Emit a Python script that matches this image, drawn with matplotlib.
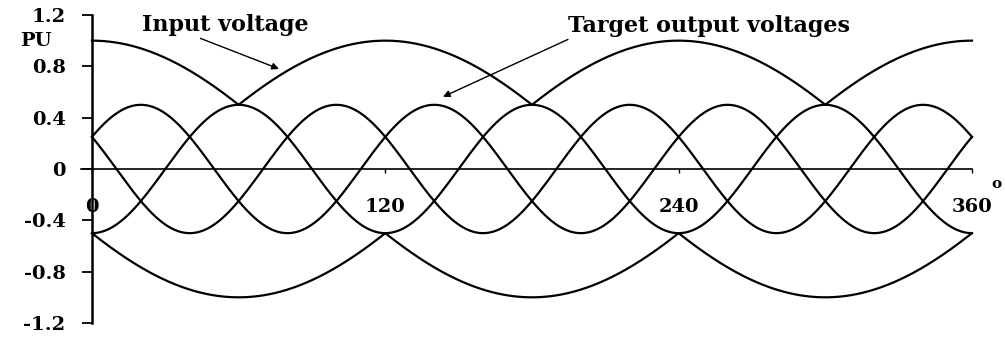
import numpy as np
import matplotlib
matplotlib.use("Agg")
import matplotlib.pyplot as plt

# Per-unit three-phase waveforms over one input cycle (degrees)
input_amplitude = 1.0
input_phases_deg = [0, -120, 120]
output_amplitude = 0.5
output_freq_ratio = 3
output_phases_deg = [-60, 180, 60]

x_ticks = [0, 120, 240, 360]
x_tick_labels = ["0", "120", "240", "360"]
y_ticks = [1.2, 0.8, 0.4, 0, -0.4, -0.8, -1.2]
y_tick_labels = ["1.2", "0.8", "0.4", "0", "-0.4", "-0.8", "-1.2"]

theta = np.linspace(0, 360, 2001)
rad = np.deg2rad(theta)

inputs = np.array([input_amplitude * np.cos(rad + np.deg2rad(p)) for p in input_phases_deg])
outputs = [output_amplitude * np.cos(output_freq_ratio * rad + np.deg2rad(p))
           for p in output_phases_deg]

font = {"family": "DejaVu Serif", "weight": "bold"}

fig = plt.figure(figsize=(10.05, 3.42), dpi=100)
ax = fig.add_axes([0.0915, 0.0556, 0.8756, 0.9006])
ax.set_xlim(0, 360)
ax.set_ylim(-1.2, 1.2)
ax.patch.set_alpha(0)

lw = 1.6
# input voltage envelope (upper and lower)
ax.plot(theta, inputs.max(axis=0), color="black", lw=lw, clip_on=False)
ax.plot(theta, inputs.min(axis=0), color="black", lw=lw, clip_on=False)
# target output voltages
for out in outputs:
    ax.plot(theta, out, color="black", lw=lw, clip_on=False)

# axes: vertical at theta=0, horizontal at zero
for side in ("top", "right"):
    ax.spines[side].set_visible(False)
ax.spines["left"].set_position(("data", 0))
ax.spines["left"].set_linewidth(1.8)
ax.spines["bottom"].set_position(("data", 0))
ax.spines["bottom"].set_linewidth(1.2)
ax.spines["bottom"].set_bounds(-4.5, 360)

ax.set_yticks(y_ticks)
ax.set_yticklabels(y_tick_labels, **font)
ax.tick_params(axis="y", direction="out", length=7, width=1.3, pad=12, labelsize=14)

ax.set_xticks(x_ticks)
ax.set_xticklabels(x_tick_labels, **font)
ax.tick_params(axis="x", direction="out", length=3, width=1.0, pad=18, labelsize=14)

ax.text(-23, 1.0, "PU", fontsize=14, ha="center", va="center", **font)
ax.text(370, -0.12, "o", fontsize=11, ha="center", va="center", **font)

arrow = dict(arrowstyle="-|>", color="black", lw=1.0, mutation_scale=10)
ax.annotate("Input voltage", xy=(76.5, 0.78), xytext=(54.4, 1.125),
            ha="center", va="center", fontsize=16, annotation_clip=False,
            arrowprops=dict(arrow, shrinkA=0, shrinkB=0, relpos=(0.31, 0.0)),
            **font)
ax.annotate("Target output voltages", xy=(143.6, 0.5625), xytext=(252.6, 1.117),
            ha="center", va="center", fontsize=16, annotation_clip=False,
            arrowprops=dict(arrow, shrinkA=0, shrinkB=0, relpos=(0.02, 0.0)),
            **font)

fig.savefig("out.png", dpi=100)
